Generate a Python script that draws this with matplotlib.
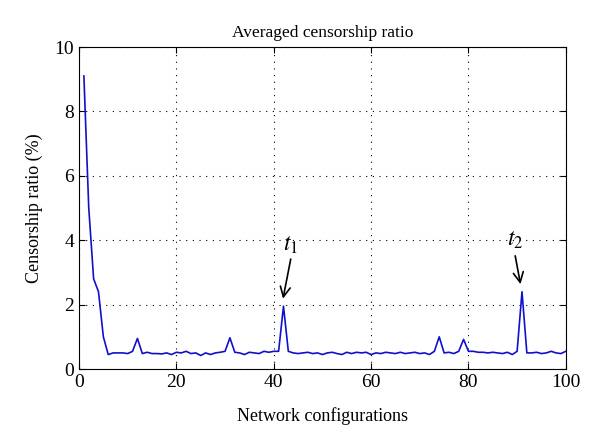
import matplotlib
matplotlib.use('Agg')
import matplotlib.pyplot as plt

plt.rcParams['font.family'] = ['Liberation Serif', 'DejaVu Serif']
plt.rcParams['mathtext.fontset'] = 'stix'

# averaged censorship ratio (%) per network configuration
configs = list(range(1, 101))
ratio = [9.1, 5.0, 2.8, 2.4, 1.0, 0.45, 0.5, 0.5, 0.5, 0.48,
         0.55, 0.95, 0.48, 0.52, 0.48, 0.48, 0.47, 0.5, 0.45, 0.52,
         0.5, 0.55, 0.48, 0.5, 0.42, 0.5, 0.45, 0.5, 0.52, 0.55,
         0.97, 0.52, 0.5, 0.45, 0.52, 0.5, 0.48, 0.55, 0.52, 0.55,
         0.55, 1.95, 0.55, 0.5, 0.48, 0.5, 0.52, 0.48, 0.5, 0.45,
         0.5, 0.52, 0.48, 0.45, 0.52, 0.48, 0.52, 0.5, 0.52, 0.45,
         0.5, 0.48, 0.52, 0.5, 0.48, 0.52, 0.48, 0.5, 0.52, 0.48,
         0.5, 0.45, 0.55, 1.0, 0.5, 0.52, 0.48, 0.55, 0.92, 0.55,
         0.55, 0.52, 0.52, 0.5, 0.52, 0.5, 0.48, 0.52, 0.45, 0.55,
         2.4, 0.5, 0.5, 0.52, 0.48, 0.5, 0.55, 0.5, 0.48, 0.55]

fig = plt.figure(figsize=(6, 4.46), dpi=100)
ax = fig.add_axes([0.1317, 0.1726, 0.8113, 0.722])

ax.plot(configs, ratio, color='#1010cc', lw=1.2)

ax.set_xlim(0, 100)
ax.set_ylim(0, 10)
ax.set_xticks(range(0, 101, 20))
ax.set_yticks(range(0, 11, 2))
ax.tick_params(direction='in', top=True, right=True, labelsize=14, length=4)
ax.grid(True, linestyle=(0, (1, 5)), color='black', linewidth=0.8)
for s in ax.spines.values():
    s.set_linewidth(0.8)

ax.set_title('Averaged censorship ratio', fontsize=12.5, pad=7)
ax.set_xlabel('Network configurations', fontsize=13, labelpad=12)
ax.set_ylabel('Censorship ratio (%)', fontsize=13, labelpad=8)

# peak markers
ax.annotate('', xy=(41.8, 2.1), xytext=(43.6, 3.5),
            arrowprops=dict(arrowstyle='->', color='black', lw=1.2, mutation_scale=18))
ax.text(43.5, 3.85, r'$t_1$', fontsize=17, ha='center', va='center')
ax.annotate('', xy=(90.8, 2.55), xytext=(89.5, 3.6),
            arrowprops=dict(arrowstyle='->', color='black', lw=1.2, mutation_scale=18))
ax.text(89.7, 4.0, r'$t_2$', fontsize=17, ha='center', va='center')

fig.savefig('out.png', dpi=100)
